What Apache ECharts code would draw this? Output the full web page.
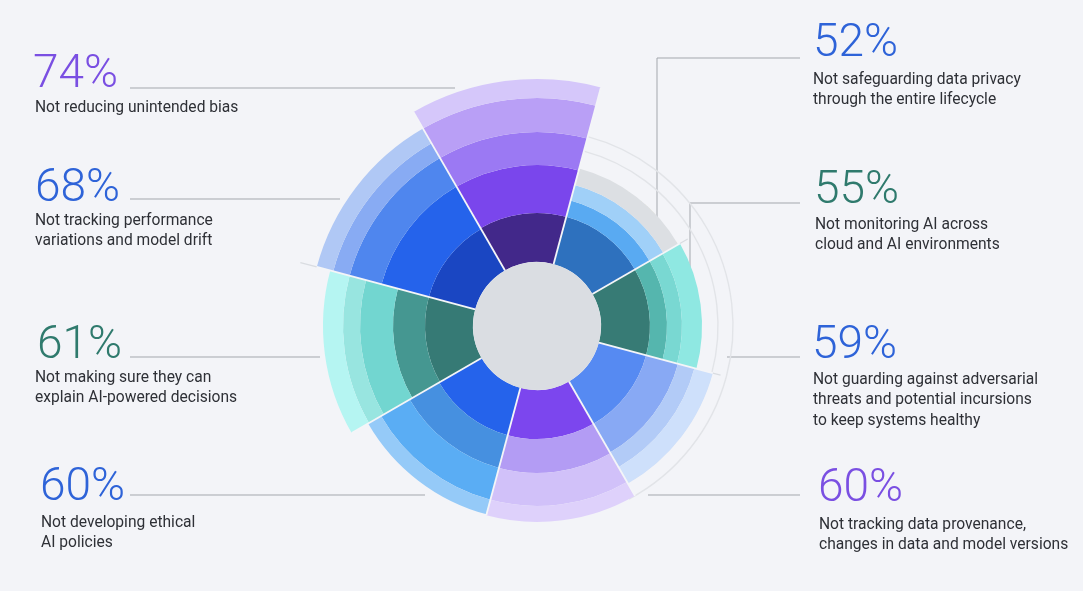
<!DOCTYPE html>
<html>
<head>
<meta charset="utf-8">
<script src="https://cdn.jsdelivr.net/npm/echarts@6/dist/echarts.min.js"></script>
<style>
  html, body { margin: 0; background: #f3f4f8; }
  #chart { width: 1083px; height: 591px; }
</style>
</head>
<body>
<div id="chart"></div>
<script>
// sectors clockwise, starting at the top purple one
const categories = ['bias', 'privacy', 'monitoring', 'adversarial', 'provenance', 'policies', 'explain', 'drift']
const coreRadius = 64
// outer edge of every coloured band, in px from the centre
const bandEdges = [
  [113, 161, 194, 228, 247],
  [113, 130, 146, 163],
  [113, 130, 145, 165],
  [113, 146, 163, 182],
  [113, 147, 180, 196],
  [113, 147, 180, 195],
  [112, 144, 177, 194, 214],
  [112, 161, 194, 211, 228],
]
const bandColors = [
  ['#42288a', '#7a46ec', '#9b79f3', '#b99ff6', '#d5c7fa'],
  ['#2e71be', '#59aaf2', '#a0d0f8', '#dcdfe3'],
  ['#377b75', '#55b6ae', '#79d8d2', '#8fe8e2'],
  ['#568af2', '#88a9f4', '#b2cbf7', '#cee0fb'],
  ['#7c46ee', '#b39cf4', '#d1c1f9', '#ded1fb'],
  ['#2563eb', '#4690e0', '#5aadf4', '#95caf8'],
  ['#367a75', '#459791', '#72d6d0', '#98e5e0', '#b5f5f2'],
  ['#1a46c2', '#2563eb', '#4f86ee', '#88abf3', '#b0c8f5'],
]
// white dividers between sectors and their faint grey overhang
const dividerAngles = [0, 45, 90, 135, 180, 225, 270, 315]
const dividerWhiteEnd = [247, 247, 165, 182, 196, 196, 214, 228]
const dividerGreyEnd = [247, 247, 174, 190, 196, 196, 214, 245]
// thin guide rings on the right: radius, from angle, to angle
const ringRadii = [181, 196]
const ringFrom = [45, 45]
const ringTo = [178, 182]

const pctText = ['74%', '68%', '61%', '60%', '52%', '55%', '59%', '60%']
const descText = [
  'Not reducing unintended bias',
  'Not tracking performance\nvariations and model drift',
  'Not making sure they can\nexplain AI-powered decisions',
  'Not developing ethical\nAI policies',
  'Not safeguarding data privacy\nthrough the entire lifecycle',
  'Not monitoring AI across\ncloud and AI environments',
  'Not guarding against adversarial\nthreats and potential incursions\nto keep systems healthy',
  'Not tracking data provenance,\nchanges in data and model versions',
]

const PURPLE = '#7a4fe2'
const BLUE = '#2e63d8'
const TEAL = '#2f7a6d'
const pctColors = [PURPLE, BLUE, TEAL, BLUE, BLUE, TEAL, BLUE, PURPLE]

// label placement: pct x / digit centre y, description x / first line y, leader polyline
const labelLayout = [
  { px: 33, py: 72, dx: 35, dy: 108, leader: [[130, 88], [455, 88]] },
  { px: 35, py: 186, dx: 35, dy: 221, leader: [[130, 199], [340, 199]] },
  { px: 37, py: 343, dx: 35, dy: 378, leader: [[130, 357], [320, 357]] },
  { px: 40, py: 485, dx: 41, dy: 523, leader: [[130, 495], [425, 495]] },
  { px: 813, py: 41, dx: 813, dy: 80, leader: [[800, 58], [657, 58], [657, 233]] },
  { px: 814, py: 188, dx: 815, dy: 225, leader: [[800, 203], [690, 203], [690, 267]] },
  { px: 812, py: 343, dx: 813, dy: 380, leader: [[800, 357], [727, 357]] },
  { px: 818, py: 486, dx: 819, dy: 525, leader: [[800, 495], [648, 495]] },
]

const CENTER = [537, 326]
const OUTER = 250
const DESC_LINE = 20.5

const maxBands = Math.max(...bandEdges.map((edges) => edges.length))
const bandSeries = []
bandSeries.push({
  type: 'bar',
  coordinateSystem: 'polar',
  polarIndex: 0,
  stack: 'rose',
  barCategoryGap: '0%',
  silent: true,
  itemStyle: { color: 'transparent' },
  data: categories.map(() => coreRadius),
  z: 2,
})
for (let level = 0; level < maxBands; level++) {
  bandSeries.push({
    type: 'bar',
    coordinateSystem: 'polar',
    polarIndex: 0,
    stack: 'rose',
    barCategoryGap: '0%',
    silent: true,
    data: bandEdges.map((edges, i) => {
      if (level >= edges.length) return 0
      const inner = level === 0 ? coreRadius : edges[level - 1]
      return { value: edges[level] - inner, itemStyle: { color: bandColors[i][level] } }
    }),
    z: 2,
  })
}

const hiddenAxis = {
  axisLine: { show: false },
  axisTick: { show: false },
  axisLabel: { show: false },
  splitLine: { show: false },
}

const graphic = []
labelLayout.forEach((pos, i) => {
  graphic.push({
    type: 'polyline',
    silent: true,
    shape: { points: pos.leader },
    style: { stroke: '#a3a7ad', lineWidth: 1, fill: null },
  })
  graphic.push({
    type: 'text',
    silent: true,
    x: pos.px,
    y: pos.py + 3,
    style: {
      text: pctText[i],
      fill: pctColors[i],
      fontSize: 46,
      fontWeight: 300,
      fontFamily: 'Roboto, Inter, sans-serif',
      verticalAlign: 'middle',
    },
  })
  graphic.push({
    type: 'text',
    silent: true,
    x: pos.dx,
    y: pos.dy - DESC_LINE / 2,
    style: {
      text: descText[i],
      fill: '#2e3036',
      fontSize: 15.6,
      lineHeight: DESC_LINE,
      fontFamily: 'Roboto, Inter, sans-serif',
      verticalAlign: 'top',
    },
  })
})

const chart = echarts.init(document.getElementById('chart'), null, { renderer: 'canvas' })
chart.setOption({
  backgroundColor: '#f3f4f8',
  animation: false,
  polar: [
    { center: CENTER, radius: OUTER },
    { center: CENTER, radius: OUTER },
  ],
  angleAxis: [
    { polarIndex: 0, type: 'category', data: categories, startAngle: 120, clockwise: true, ...hiddenAxis },
    { polarIndex: 1, type: 'value', min: 0, max: 360, startAngle: 120, clockwise: true, ...hiddenAxis },
  ],
  radiusAxis: [
    { polarIndex: 0, type: 'value', min: 0, max: OUTER, ...hiddenAxis },
    { polarIndex: 1, type: 'value', min: 0, max: OUTER, ...hiddenAxis },
  ],
  series: [
    {
      name: 'rings',
      type: 'custom',
      coordinateSystem: 'polar',
      polarIndex: 1,
      silent: true,
      z: 1,
      encode: { radius: 0, angle: 1 },
      data: ringRadii.map((r, i) => [r, ringFrom[i], ringTo[i]]),
      renderItem(params, api) {
        const c = api.coord([0, 0])
        const a = api.coord([api.value(0), api.value(1)])
        const b = api.coord([api.value(0), api.value(2)])
        return {
          type: 'arc',
          shape: {
            cx: c[0],
            cy: c[1],
            r: Math.hypot(a[0] - c[0], a[1] - c[1]),
            startAngle: Math.atan2(a[1] - c[1], a[0] - c[0]),
            endAngle: Math.atan2(b[1] - c[1], b[0] - c[0]),
            clockwise: true,
          },
          style: { stroke: '#e2e4e8', lineWidth: 1.4, fill: null },
        }
      },
    },
    ...bandSeries,
    {
      name: 'dividers',
      type: 'custom',
      coordinateSystem: 'polar',
      polarIndex: 1,
      silent: true,
      z: 5,
      encode: { radius: 0, angle: 1 },
      data: dividerAngles.map((a, i) => [dividerWhiteEnd[i], a, dividerGreyEnd[i]]),
      renderItem(params, api) {
        const a = api.value(1)
        const p0 = api.coord([coreRadius, a])
        const p1 = api.coord([api.value(0), a])
        const p2 = api.coord([api.value(2), a])
        return {
          type: 'group',
          children: [
            { type: 'line', shape: { x1: p1[0], y1: p1[1], x2: p2[0], y2: p2[1] }, style: { stroke: '#d9dce1', lineWidth: 1.3 } },
            { type: 'line', shape: { x1: p0[0], y1: p0[1], x2: p1[0], y2: p1[1] }, style: { stroke: '#f4f5f8', lineWidth: 1.8 } },
          ],
        }
      },
    },
    {
      name: 'core',
      type: 'custom',
      coordinateSystem: 'polar',
      polarIndex: 1,
      silent: true,
      z: 6,
      encode: { radius: 0, angle: 1 },
      data: [[coreRadius, 0]],
      renderItem(params, api) {
        const c = api.coord([0, 0])
        const e = api.coord([api.value(0), api.value(1)])
        return {
          type: 'circle',
          shape: { cx: c[0], cy: c[1], r: Math.hypot(e[0] - c[0], e[1] - c[1]) },
          style: { fill: '#dadde2' },
        }
      },
    },
  ],
  graphic,
})
</script>
</body>
</html>
